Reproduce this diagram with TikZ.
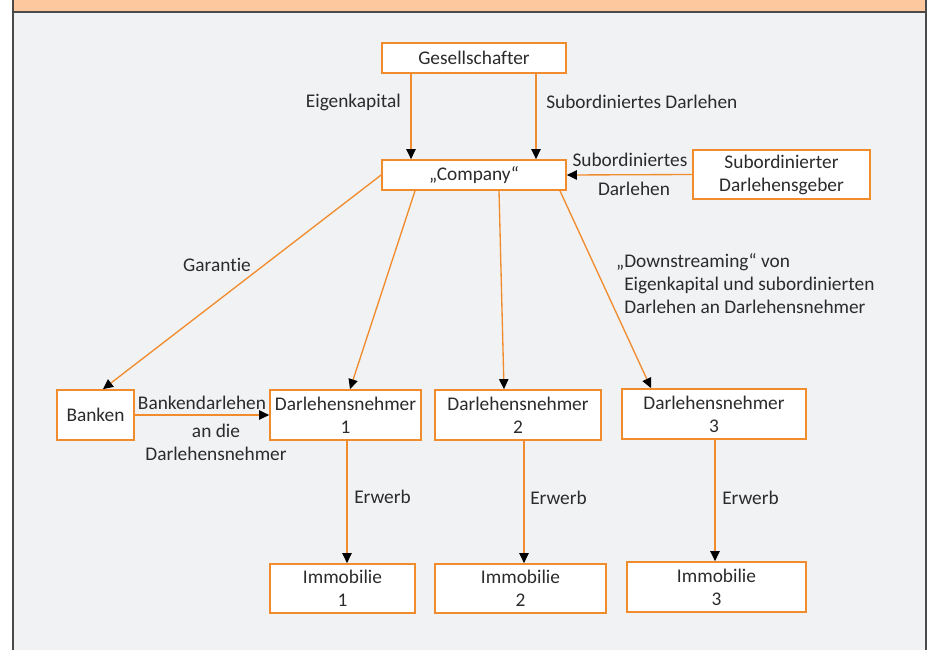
\documentclass[tikz,border=0pt]{standalone}
\usepackage{fontspec}
\setmainfont{Carlito}[Ligatures=NoCommon]
\usetikzlibrary{arrows.meta,positioning}
\definecolor{orng}{HTML}{F08C2E}
\definecolor{hdr}{HTML}{FDC89E}
\definecolor{bgr}{HTML}{F1F2F4}
\definecolor{ink}{HTML}{2B2B2B}
\definecolor{frm}{HTML}{4A4A4A}
\tikzset{
  box/.style={rectangle, draw=orng, fill=white, line width=1.3pt, text=ink, align=center, inner sep=0pt},
  lbl/.style={text=ink, inner sep=0pt},
  line/.style={draw=orng, line width=1pt, -{Triangle[length=7.5pt,width=7pt,color=black]}}
}

\begin{document}
\begin{tikzpicture}[x=0.75pt,y=-0.75pt,font=\fontsize{14.5}{17.3}\selectfont]
  \useasboundingbox (0,0) rectangle (928,650);
  % frame
  \fill[bgr] (13,12) rectangle (926,650);
  \fill[hdr] (13,0) rectangle (926,12);
  \draw[frm, line width=1.5pt] (13,0) -- (13,650) (926,0) -- (926,650) (13,12) -- (926,12);

  % boxes
  \node[box, minimum width=138pt, minimum height=22.5pt] (ges) at (474,58) {Gesellschafter};
  \node[box, minimum width=138pt, minimum height=22.5pt] (comp) at (474,175) {„Company“};
  \node[box, minimum width=132.75pt, minimum height=36.75pt] (subg) at (781.5,174.5) {Subordinierter\\Darlehensgeber};
  \node[box, minimum width=57.75pt, minimum height=37.5pt] (bank) at (95.5,415) {Banken};
  \node[box, minimum width=113.25pt, minimum height=37.5pt] (dn1) at (345.5,415) {Darlehensnehmer\\1};
  \node[box, minimum width=124.5pt, minimum height=37.5pt] (dn2) at (518,415) {Darlehensnehmer\\2};
  \node[box, minimum width=138pt, minimum height=37.5pt] (dn3) at (714,414) {Darlehensnehmer\\3};
  \node[box, minimum width=108.75pt, minimum height=36.75pt] (imm1) at (342.5,588.5) {Immobilie\\1};
  \node[box, minimum width=128.25pt, minimum height=36.75pt] (imm2) at (520.5,588.5) {Immobilie\\2};
  \node[box, minimum width=134.25pt, minimum height=37.5pt] (imm3) at (716.5,587) {Immobilie\\3};

  % labels
  \node[lbl, anchor=east] (eig) at (401,102) {Eigenkapital};
  \node[lbl, anchor=west] (subd) at (546,102) {Subordiniertes Darlehen};
  \node[lbl] (subo) at (630,160) {Subordiniertes};
  \node[lbl] (darl) at (634,189) {Darlehen};
  \node[lbl] (gar) at (217,265) {Garantie};
  \node[lbl, anchor=north west, align=left] (down) at (624,253)
    {\llap{„}Downstreaming“ von\\Eigenkapital und subordinierten\\Darlehen an Darlehensnehmer};
  \node[lbl] (bkd) at (202,403) {Bankendarlehen};
  \node[lbl, align=center] (andie) at (216,442) {an die\\Darlehensnehmer};
  \node[lbl, anchor=west] (erw1) at (354,497) {Erwerb};
  \node[lbl, anchor=west] (erw2) at (530,498) {Erwerb};
  \node[lbl, anchor=west] (erw3) at (722,498) {Erwerb};

  % connectors
  \begin{scope}[every path/.style=line]
    \path (ges.south -| 411,0) -- (comp.north -| 411,0);
    \path (ges.south -| 536,0) -- (comp.north -| 536,0);
    \path (subg.west) -- (comp.east);
    \path (comp.west) -- (bank.north -| 103,0);
    \path (comp.south -| 415,0) -- (dn1.north -| 350,0);
    \path (comp.south -| 499,0) -- (dn2.north -| 504,0);
    \path (comp.south -| 560,0) -- (dn3.north -| 651,0);
    \path (bank.east) -- (dn1.west);
    \path (dn1.south -| 347,0) -- (imm1.north -| 347,0);
    \path (dn2.south -| 524,0) -- (imm2.north -| 524,0);
    \path (dn3.south -| 715,0) -- (imm3.north -| 715,0);
  \end{scope}
\end{tikzpicture}
\end{document}
